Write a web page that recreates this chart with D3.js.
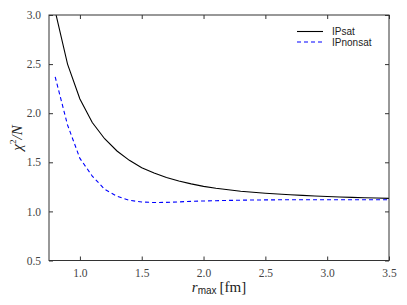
<!DOCTYPE html>
<html><head><meta charset="utf-8">
<script src="https://cdn.jsdelivr.net/npm/d3@7"></script>
<style>body{margin:0;background:#fff}svg{display:block}</style>
</head><body>
<svg id="c" width="407" height="305"></svg>
<script>
const rValues = [0.8,0.9,1.0,1.1,1.2,1.3,1.4,1.5,1.6,1.7,1.8,1.9,2.0,2.1,2.2,2.3,2.4,2.5,2.6,2.7,2.8,2.9,3.0,3.1,3.2,3.3,3.4,3.5];
const ipsat = [3.04,2.50,2.145,1.905,1.74,1.615,1.52,1.445,1.39,1.345,1.31,1.28,1.255,1.235,1.22,1.205,1.195,1.185,1.177,1.17,1.163,1.157,1.152,1.147,1.143,1.139,1.136,1.133];
const ipnonsat = [2.37,1.88,1.54,1.36,1.225,1.155,1.113,1.096,1.09,1.092,1.097,1.102,1.106,1.109,1.112,1.114,1.116,1.117,1.118,1.118,1.118,1.118,1.118,1.118,1.118,1.118,1.118,1.118];
const xTicks = [1.0,1.5,2.0,2.5,3.0,3.5];
const yTicks = [0.5,1.0,1.5,2.0,2.5,3.0];
const seriesNames = ["IPsat","IPnonsat"];

(function(){
const svg = d3.select("#c");
const L=49,R=389,T=15,B=260.5;
const x = d3.scaleLinear().domain([0.75,3.5]).range([L,R]);
const y = d3.scaleLinear().domain([0.5,3.0]).range([B,T]);
const serif = "'Liberation Serif', 'DejaVu Serif', serif";
const sans = "'Liberation Sans', Arial, sans-serif";

const defs = svg.append("defs");
defs.append("clipPath").attr("id","clip").append("rect").attr("x",L).attr("y",T).attr("width",R-L).attr("height",B-T);

const line = d3.line().x((d,i)=>x(rValues[i])).y(d=>y(d));
const g = svg.append("g").attr("clip-path","url(#clip)");
g.append("path").attr("d",line(ipsat)).attr("fill","none").attr("stroke","#000").attr("stroke-width",1.1);
g.append("path").attr("d",line(ipnonsat)).attr("fill","none").attr("stroke","#0000ff").attr("stroke-width",1.1).attr("stroke-dasharray","4,3");

const ax = "#333";
svg.append("rect").attr("x",L).attr("y",T).attr("width",R-L).attr("height",B-T).attr("fill","none").attr("stroke",ax).attr("stroke-width",1);

const axBottom = d3.axisBottom(x).tickValues(xTicks).tickSize(-4).tickPadding(8).tickFormat(d3.format(".1f"));
const axTop = d3.axisTop(x).tickValues(xTicks).tickSize(-4).tickFormat("");
const axLeft = d3.axisLeft(y).tickValues(yTicks).tickSize(-4).tickPadding(8).tickFormat(d3.format(".1f"));
const axRight = d3.axisRight(y).tickValues(yTicks).tickSize(-4).tickFormat("");
function style(sel){ sel.select(".domain").remove(); sel.selectAll("line").attr("stroke",ax); sel.selectAll("text").attr("font-family",serif).attr("font-size",11.5).attr("fill","#444"); }
svg.append("g").attr("transform",`translate(0,${B})`).call(axBottom).call(style);
svg.append("g").attr("transform",`translate(0,${T})`).call(axTop).call(style);
svg.append("g").attr("transform",`translate(${L},0)`).call(axLeft).call(style);
svg.append("g").attr("transform",`translate(${R},0)`).call(axRight).call(style);

const xl = svg.append("text").attr("x",219).attr("y",292).attr("text-anchor","middle").attr("fill","#222").attr("font-size",15);
xl.append("tspan").attr("font-family",serif).attr("font-style","italic").text("r");
xl.append("tspan").attr("font-family",sans).attr("font-size",10).attr("dy",2).text("max");
xl.append("tspan").attr("font-family",serif).attr("dy",-2).attr("dx",3).text("[fm]");

const yl = svg.append("text").attr("transform","translate(22,138) rotate(-90)").attr("text-anchor","middle").attr("fill","#222").attr("font-family",serif).attr("font-size",15);
yl.append("tspan").attr("font-style","italic").text("χ");
yl.append("tspan").attr("font-size",9).attr("dy",-6).text("2");
yl.append("tspan").attr("dy",6).attr("font-style","italic").text("/N");

const leg = svg.append("g");
seriesNames.forEach((n,i)=>{
  const yy = 31.5 + i*10.5;
  leg.append("line").attr("x1",297).attr("x2",323).attr("y1",yy).attr("y2",yy)
    .attr("stroke", i===0?"#000":"#0000ff").attr("stroke-width",1.1).attr("stroke-dasharray", i===0?null:"4,3");
  leg.append("text").attr("x",332).attr("y",yy+3.5).attr("font-family",sans).attr("font-size",10).attr("fill","#222").text(n);
});
})();
</script>
</body></html>
